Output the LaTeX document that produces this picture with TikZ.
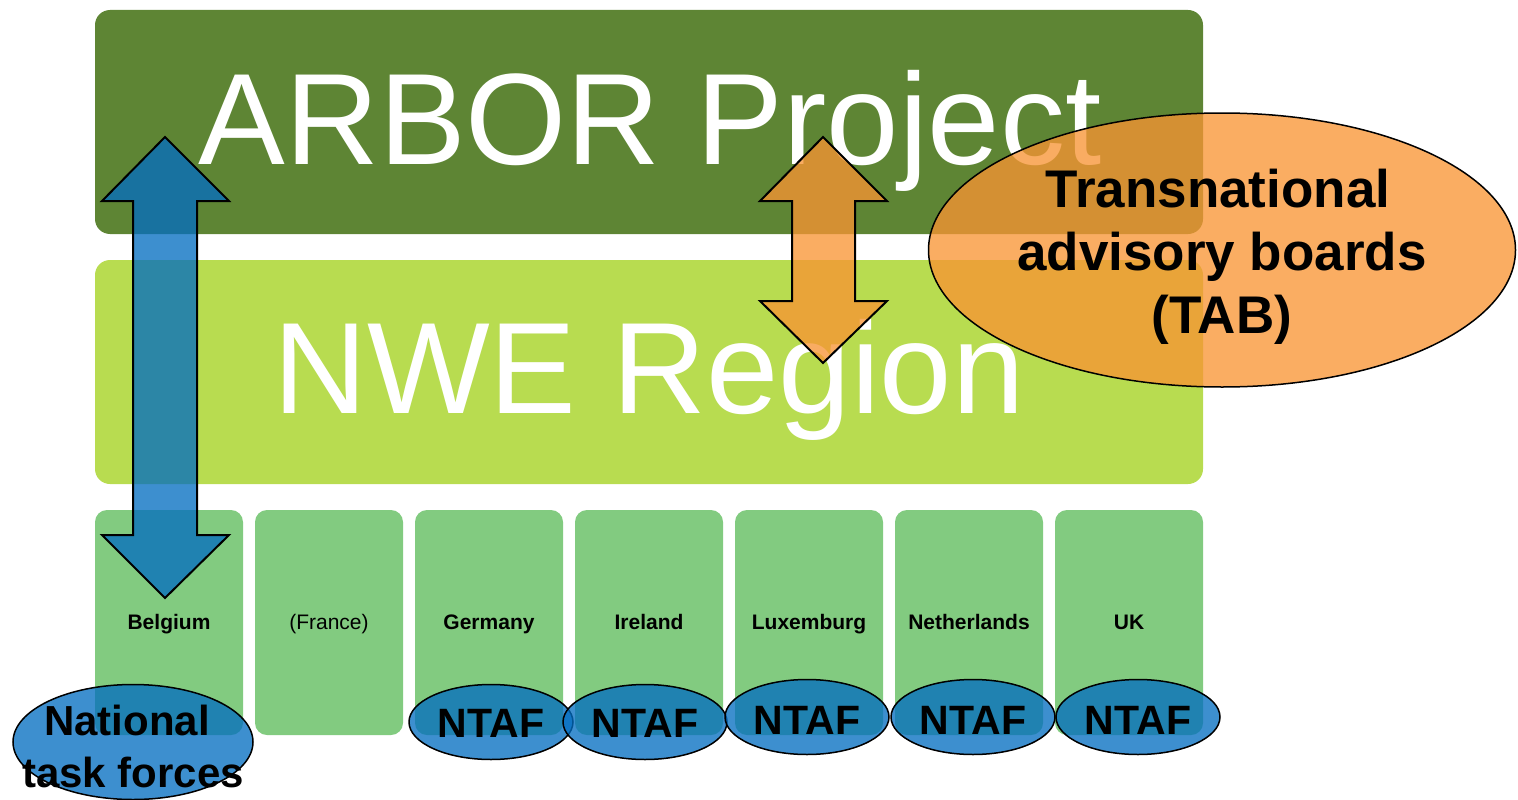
\documentclass[tikz,border=0pt]{standalone}
\usepackage{fontspec}
\setmainfont{Liberation Sans}
\usetikzlibrary{shapes.geometric}
\definecolor{darkleaf}{RGB}{94,133,52}
\definecolor{limeleaf}{RGB}{184,220,80}
\definecolor{softleaf}{RGB}{130,203,128}
\definecolor{tabfill}{RGB}{248,148,51}
\definecolor{taskfill}{RGB}{3,109,193}
\tikzset{
  bigbox/.style={fill=#1, rounded corners=15pt, inner sep=0pt, minimum width=1108pt, minimum height=224pt},
  country/.style={fill=softleaf, rounded corners=12pt, inner sep=0pt, minimum width=148pt, minimum height=225pt},
  huge title/.style={text=white, anchor=base, font=\fontsize{#1}{#1}\selectfont},
  orangearrow/.style={draw=black, line width=2pt, line join=miter, fill=tabfill, fill opacity=0.77},
  bluearrow/.style={draw=black, line width=2pt, line join=miter, fill=taskfill, fill opacity=0.77},
  tabellipse/.style={ellipse, draw=black, line width=1.5pt, fill=tabfill, fill opacity=0.77, text opacity=1, inner sep=0pt},
  taskellipse/.style={ellipse, draw=black, line width=1.5pt, fill=taskfill, fill opacity=0.77, text opacity=1, inner sep=0pt},
  ellabel/.style={anchor=base, font=\fontsize{#1}{#1}\selectfont\bfseries},
}
\begin{document}
\begin{tikzpicture}[x=1pt,y=-1pt]
\useasboundingbox (0,0) rectangle (1518,800);

% layers: project and region bands
\node[bigbox=darkleaf] (project) at (649,122) {};
\node[bigbox=limeleaf] (region) at (649,372) {};

% country columns
\foreach \n/\cx/\lbl in {be/169/\textbf{Belgium}, fr/329/(France), de/489/\textbf{Germany}, ie/649/\textbf{Ireland}, lu/809/\textbf{Luxemburg}, nl/969/\textbf{Netherlands}, uk/1129/\textbf{UK}}{
  \node[country] (\n) at (\cx,622.5) {};
  \node[anchor=base, font=\fontsize{21}{24}\selectfont] (\n-label) at (\cx,629) {\lbl};
}

% band titles
\node[huge title=130] (project-title) at (650,164) {ARBOR Project};
\node[huge title=130] (region-title) at (649,413) {NWE Region};

% link between the project and Belgium
\draw[bluearrow] (165,137) -- (229,201) -- (197,201) -- (197,535) -- (229,535) -- (165,598)
  -- (102,535) -- (133,535) -- (133,201) -- (102,201) -- cycle;

% link between the project and the region
\draw[orangearrow] (823,137) -- (887,201) -- (855,201) -- (855,301) -- (887,301) -- (823,363)
  -- (760,301) -- (792,301) -- (792,201) -- (760,201) -- cycle;

% transnational advisory boards
\node[tabellipse, minimum width=587pt, minimum height=274pt] (tab) at (1222,250) {};
\node[ellabel=53] (tab-l1) at (1218,207) {Transnational};
\node[ellabel=53] (tab-l2) at (1222,270) {advisory boards};
\node[ellabel=53] (tab-l3) at (1222,333) {(TAB)};

% national task forces
\node[taskellipse, minimum width=240pt, minimum height=115pt] (ntf) at (133,742) {};
\node[ellabel=42] (ntf-l1) at (127,735) {National};
\node[ellabel=42] (ntf-l2) at (133,787) {task forces};

\foreach \n/\cx/\cy/\by in {1/491/722/737, 2/645/722/737, 3/807/717/734, 4/973/717/734, 5/1138/717/734}{
  \node[taskellipse, minimum width=164pt, minimum height=75pt] (ntaf\n) at (\cx,\cy) {};
  \node[ellabel=41] (ntaf\n-label) at (\cx,\by) {NTAF};
}
\end{tikzpicture}
\end{document}
